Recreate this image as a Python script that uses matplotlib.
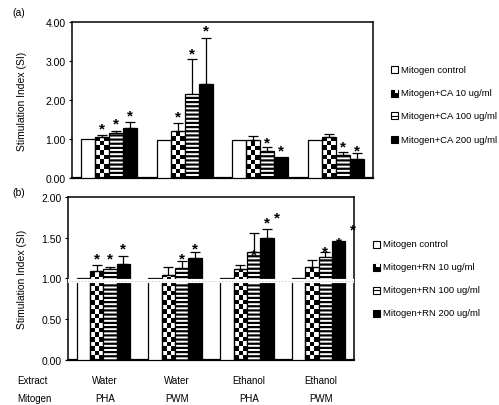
import numpy as np
import matplotlib
matplotlib.use('Agg')
import matplotlib.pyplot as plt
from matplotlib.patches import Rectangle

plt.rcParams['font.family'] = ['Liberation Sans', 'DejaVu Sans']
plt.rcParams['hatch.linewidth'] = 1.6

# ---------------- data ----------------
extracts = ['Water', 'Water', 'Ethanol', 'Ethanol']
mitogens = ['PHA', 'PWM', 'PHA', 'PWM']

series_a = ['Mitogen control', 'Mitogen+CA 10 ug/ml',
            'Mitogen+CA 100 ug/ml', 'Mitogen+CA 200 ug/ml']
series_b = ['Mitogen control', 'Mitogen+RN 10 ug/ml',
            'Mitogen+RN 100 ug/ml', 'Mitogen+RN 200 ug/ml']

a_control = [1.00, 0.99, 0.99, 0.99]
a_ca10 = [1.06, 1.21, 0.97, 1.06]
a_ca100 = [1.17, 2.16, 0.69, 0.60]
a_ca200 = [1.29, 2.41, 0.55, 0.50]
a_err_control = [0.0, 0.0, 0.0, 0.0]
a_err_ca10 = [0.05, 0.20, 0.11, 0.08]
a_err_ca100 = [0.04, 0.90, 0.12, 0.08]
a_err_ca200 = [0.16, 1.18, 0.00, 0.14]
nan = np.nan
a_star_control = [nan, nan, nan, nan]
a_star_ca10 = [1.41, 1.71, nan, nan]
a_star_ca100 = [1.53, 3.32, 1.04, 0.94]
a_star_ca200 = [1.74, 3.91, 0.85, 0.85]

b_control = [1.00, 1.00, 1.00, 1.00]
b_rn10 = [1.09, 1.04, 1.11, 1.14]
b_rn100 = [1.11, 1.13, 1.32, 1.26]
b_rn200 = [1.18, 1.25, 1.49, 1.46]
b_err_control = [0.0, 0.0, 0.0, 0.0]
b_err_rn10 = [0.08, 0.10, 0.06, 0.08]
b_err_rn100 = [0.03, 0.08, 0.24, 0.06]
b_err_rn200 = [0.10, 0.07, 0.12, 0.00]
b_star_control = [nan, nan, nan, nan]
b_star_rn10 = [1.31, nan, nan, nan]
b_star_rn100 = [1.31, 1.31, 1.36, 1.40]
b_star_rn200 = [1.43, 1.43, 1.75, 1.50]
# stray asterisks (group index, bar slot, height)
b_extra_stars = [(2, 3.73, 1.81), (3, 4.04, 1.66)]
b_break_value = 0.965

a_ticks = [0, 1, 2, 3, 4]
b_ticks = [0, 0.5, 1.0, 1.5, 2.0]

# ---------------- layout ----------------
W, H = 499, 406
fig = plt.figure(figsize=(W / 100, H / 100), dpi=100)
ax_a = fig.add_axes([72 / W, 1 - 179.3 / H, (373 - 72) / W, (179.3 - 23) / H])
ax_b = fig.add_axes([68 / W, 1 - 360.7 / H, (354 - 68) / W, (360.7 - 198) / H])

bw = 0.185
offsets = (np.arange(4) - 1.5) * bw
xg = np.arange(4)
STAR_FS = 11


def star(ax, x, y):
    ax.annotate('*', (x, y), xytext=(0, -0.6 * STAR_FS), textcoords='offset points',
                ha='center', va='baseline', fontsize=STAR_FS, fontweight='bold',
                zorder=4, annotation_clip=False)


def checker(ax, rect, cell_px):
    x0, w, h = rect.get_x(), rect.get_width(), rect.get_height()
    p0 = ax.transData.transform((0, 0))
    p1 = ax.transData.transform((0, 1))
    px_per_unit = p1[1] - p0[1]
    cell_y = cell_px / px_per_unit
    ny = int(np.ceil(h / cell_y)) + 1
    nx = 3
    img = (np.add.outer(np.arange(ny), np.arange(nx)) % 2).astype(float)
    im = ax.imshow(img, cmap='gray', vmin=0, vmax=1, origin='lower',
                   extent=(x0, x0 + w, 0, ny * cell_y), interpolation='nearest',
                   aspect='auto', zorder=2)
    im.set_clip_path(rect)


def panel(ax, vals, errs, stars, ymax, ticks):
    ax.set_xlim(-0.49, 3.49)
    ax.set_ylim(0, ymax)
    for i in range(4):
        xs = xg + offsets[i]
        v = np.array(vals[i])
        if i == 0:
            bars = ax.bar(xs, v, bw, facecolor='white', edgecolor='black', lw=0.9, zorder=3)
        elif i == 1:
            bars = ax.bar(xs, v, bw, facecolor='none', edgecolor='black', lw=0.9, zorder=3)
            for r in bars:
                checker(ax, r, 4.6)
        elif i == 2:
            bars = ax.bar(xs, v, bw, facecolor='white', edgecolor='black', lw=0.9,
                          hatch='----', zorder=3)
        else:
            bars = ax.bar(xs, v, bw, facecolor='black', edgecolor='black', lw=0.9, zorder=3)
        e = np.array(errs[i])
        m = e > 0
        if m.any():
            ax.errorbar(xs[m], v[m], yerr=[np.zeros(m.sum()), e[m]], fmt='none',
                        ecolor='black', elinewidth=0.9, capsize=3.5, capthick=0.9, zorder=2.5)
        for xi, sy in zip(xs, stars[i]):
            if not np.isnan(sy):
                star(ax, xi, sy)
    ax.set_yticks(ticks)
    ax.set_yticklabels(['%.2f' % t for t in ticks], fontsize=7.5)
    ax.set_xticks([])
    ax.tick_params(axis='y', direction='out', length=2.5, width=0.8, pad=2)
    for s in ax.spines.values():
        s.set_linewidth(1.1)
    ax.spines['bottom'].set_linewidth(1.6)
    ax.set_ylabel('Stimulation Index (SI)', fontsize=7.5)


panel(ax_a, [a_control, a_ca10, a_ca100, a_ca200],
      [a_err_control, a_err_ca10, a_err_ca100, a_err_ca200],
      [a_star_control, a_star_ca10, a_star_ca100, a_star_ca200], 4.0, a_ticks)
panel(ax_b, [b_control, b_rn10, b_rn100, b_rn200],
      [b_err_control, b_err_rn10, b_err_rn100, b_err_rn200],
      [b_star_control, b_star_rn10, b_star_rn100, b_star_rn200], 2.0, b_ticks)

for g, slot, sy in b_extra_stars:
    star(ax_b, g + (slot - 1.5) * bw, sy)

# axis break band
ax_b.axhline(b_break_value, color='white', lw=3.0, zorder=5)
ax_b.axhline(b_break_value, color='#c8c8c8', lw=0.6, ls=(0, (2, 2)), zorder=6)

ax_a.yaxis.set_label_coords(-0.15, 0.5)
ax_b.yaxis.set_label_coords(-0.143, 0.5)

fig.text(12 / W, 1 - 13 / H, '(a)', fontsize=7.5, ha='left', va='center')
fig.text(12 / W, 1 - 193 / H, '(b)', fontsize=7.5, ha='left', va='center')


# ---------------- manual legends ----------------
def legend(labels, px_box, px_text, ys, size=7):
    for k, (lab, yy) in enumerate(zip(labels, ys)):
        x0 = px_box / W
        y0 = 1 - (yy + size / 2) / H
        w = size / W
        h = size / H
        if k == 0:
            fig.add_artist(Rectangle((x0, y0), w, h, transform=fig.transFigure,
                                     facecolor='white', edgecolor='black', lw=0.8))
        elif k == 1:
            fig.add_artist(Rectangle((x0, y0), w, h, transform=fig.transFigure,
                                     facecolor='black', edgecolor='black', lw=0.8))
            fig.add_artist(Rectangle((x0 + w / 2, y0 + h / 2), w / 2 - 0.001, h / 2 - 0.0015,
                                     transform=fig.transFigure,
                                     facecolor='white', edgecolor='none'))
        elif k == 2:
            fig.add_artist(Rectangle((x0, y0), w, h, transform=fig.transFigure,
                                     facecolor='white', edgecolor='black', lw=0.8))
            fig.add_artist(plt.Line2D([x0, x0 + w], [y0 + h / 2, y0 + h / 2],
                                      transform=fig.transFigure, color='black', lw=0.8))
        else:
            fig.add_artist(Rectangle((x0, y0), w, h, transform=fig.transFigure,
                                     facecolor='black', edgecolor='black', lw=0.8))
        fig.text(px_text / W, 1 - yy / H, lab, fontsize=6.8, ha='left', va='center')


legend(series_a, 391, 401, [70.7, 94, 116.7, 140.7])
legend(series_b, 373, 383, [245, 268, 291, 314])

# ---------------- bottom table ----------------
fig.text(17 / W, 1 - 381 / H, 'Extract', fontsize=7, ha='left', va='center')
fig.text(17 / W, 1 - 399 / H, 'Mitogen', fontsize=7, ha='left', va='center')
for g in range(4):
    xd = ax_b.transData.transform((g, 0))[0]
    xf = fig.transFigure.inverted().transform((xd + 2, 0))[0]
    fig.text(xf, 1 - 381 / H, extracts[g], fontsize=7, ha='center', va='center')
    fig.text(xf, 1 - 399 / H, mitogens[g], fontsize=7, ha='center', va='center')

fig.savefig('out.png', dpi=100)
